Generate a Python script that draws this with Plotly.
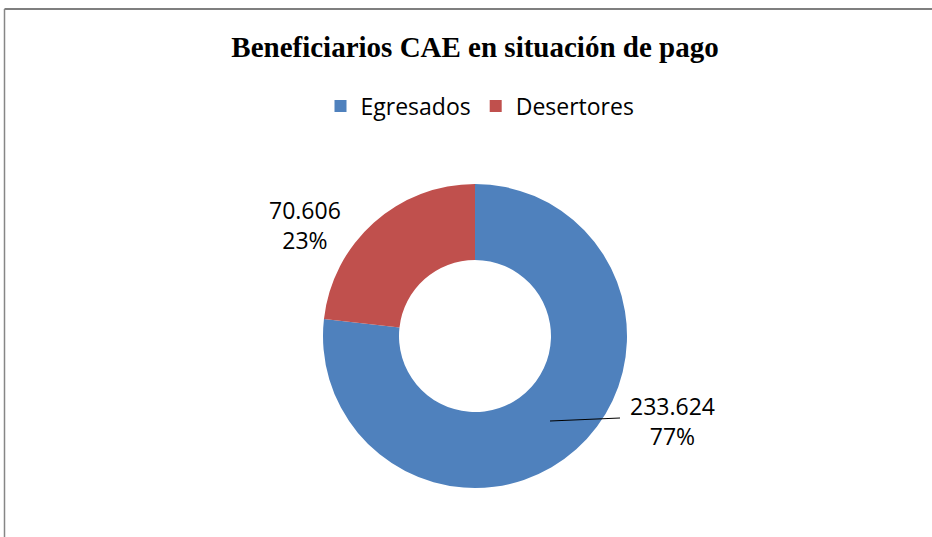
import plotly.graph_objects as go

W, H = 932, 537
categories = ["Egresados", "Desertores"]
values = [233624, 70606]
colors = ["#4F81BD", "#C0504D"]
title = "Beneficiarios CAE en situación de pago"

total = sum(values)

def fmt_thousands(v):
    return f"{v:,}".replace(",", ".")

label_texts = [f"{fmt_thousands(v)}<br>{round(100 * v / total)}%" for v in values]

fig = go.Figure(go.Pie(
    labels=categories,
    values=values,
    hole=0.5,
    sort=False,
    direction="clockwise",
    rotation=0,
    marker=dict(colors=colors, line=dict(color="white", width=0)),
    textinfo="none",
    hoverinfo="label+value+percent",
    domain=dict(x=[323 / W, 627 / W], y=[1 - 488 / H, 1 - 184 / H]),
))

label_pos = [(672, 421), (305, 225)]
annotations = []
for (px, py), txt in zip(label_pos, label_texts):
    annotations.append(dict(
        x=px / W, y=1 - py / H, xref="paper", yref="paper",
        xanchor="center", yanchor="middle",
        text=txt, showarrow=False, align="center",
        font=dict(family="Open Sans, Liberation Sans, sans-serif", size=23, color="#000000"),
    ))

shapes = [
    # chart border (top and left)
    dict(type="line", xref="paper", yref="paper", x0=4.5 / W, x1=1.0, y0=1 - 9 / H, y1=1 - 9 / H,
         layer="above", line=dict(color="#7f7f7f", width=2)),
    dict(type="line", xref="paper", yref="paper", x0=4.5 / W, x1=4.5 / W, y0=0, y1=1 - 9 / H,
         layer="above", line=dict(color="#868686", width=1.5)),
    # leader line for Egresados label
    dict(type="line", xref="paper", yref="paper", x0=550 / W, x1=620 / W, y0=1 - 421 / H, y1=1 - 418 / H,
         line=dict(color="#000000", width=1.2)),
]

fig.update_layout(
    width=W, height=H,
    margin=dict(l=0, r=0, t=0, b=0),
    paper_bgcolor="white",
    plot_bgcolor="white",
    title=dict(text="<b>" + title + "</b>", x=475 / W, xanchor="center", y=1 - 47 / H, yanchor="middle",
               font=dict(family="Liberation Serif, DejaVu Serif, serif", size=29, color="#000000")),
    legend=dict(orientation="h", x=480 / W, xanchor="center", y=1 - 106 / H, yanchor="middle",
                font=dict(family="Open Sans, Liberation Sans, sans-serif", size=23, color="#000000"),
                itemwidth=30, tracegroupgap=0),
    annotations=annotations,
    shapes=shapes,
)

fig.write_html("out.html", config={"displayModeBar": False},
               post_script="document.body.style.margin='0';document.body.style.overflow='hidden';")
